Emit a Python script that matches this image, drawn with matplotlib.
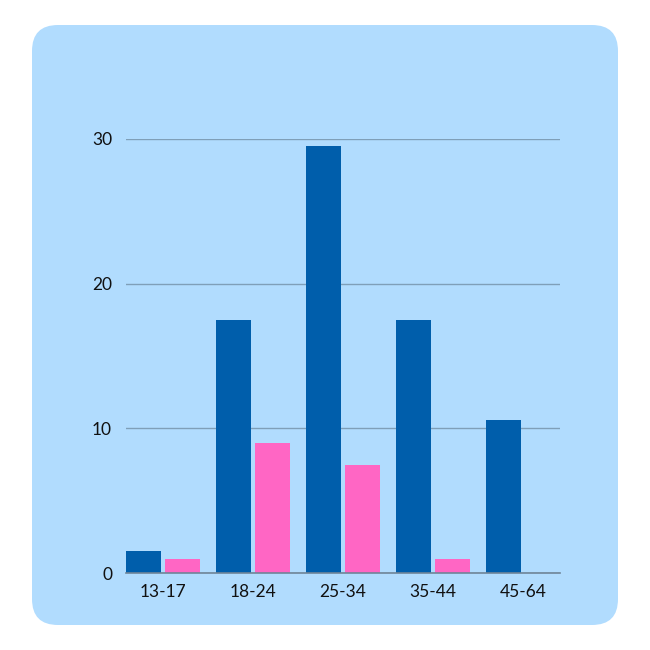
import matplotlib
matplotlib.use("Agg")
import matplotlib.pyplot as plt
from matplotlib.patches import FancyBboxPatch
import numpy as np

categories = ["13-17", "18-24", "25-34", "35-44", "45-64"]
series_blue = [1.5, 17.5, 29.5, 17.5, 10.6]
series_pink = [1.0, 9.0, 7.5, 1.0, 0.0]
yticks = [0, 10, 20, 30]

BG = "#B1DCFE"
BLUE = "#005EAB"
PINK = "#FF66C4"

plt.rcParams['font.family'] = ['Lato', 'DejaVu Sans']

fig = plt.figure(figsize=(6.5, 6.5), dpi=100)
fig.patch.set_facecolor("white")
# rounded background card
card = FancyBboxPatch((32/650, 25/650), (618-32)/650, (625-25)/650,
                      boxstyle="round,pad=0,rounding_size=0.04",
                      transform=fig.transFigure, facecolor=BG, edgecolor="none",
                      zorder=-10)
fig.patches.append(card)

ax = fig.add_axes([126/650, (650-573)/650, (560-126)/650, (573-139)/650])
ax.set_zorder(5)
ax.set_facecolor("none")

x = np.arange(len(categories))
w = 0.39
off = 0.217
ax.bar(x - off, series_blue, width=w, color=BLUE, zorder=3)
ax.bar(x + off, series_pink, width=w, color=PINK, zorder=3)

ax.set_xlim(-off - w/2, len(categories) - 1 + off + w/2)
ax.set_ylim(0, 30)
ax.set_yticks(yticks)
ax.set_yticklabels([str(t) for t in yticks])
ax.set_xticks(x)
ax.set_xticklabels(categories)
ax.tick_params(axis='both', length=0, labelsize=12.5, colors="#111111")
ax.tick_params(axis='y', pad=10)
ax.tick_params(axis='x', pad=8)
ax.yaxis.grid(True, color="#7F9FB8", linewidth=1.0, zorder=0)
ax.set_axisbelow(True)
for s in ["top", "right", "left"]:
    ax.spines[s].set_visible(False)
ax.spines["bottom"].set_color("#6F8598")
ax.spines["bottom"].set_linewidth(1.2)
ax.spines["bottom"].set_zorder(4)

fig.savefig("out.png", dpi=100, facecolor="white")
